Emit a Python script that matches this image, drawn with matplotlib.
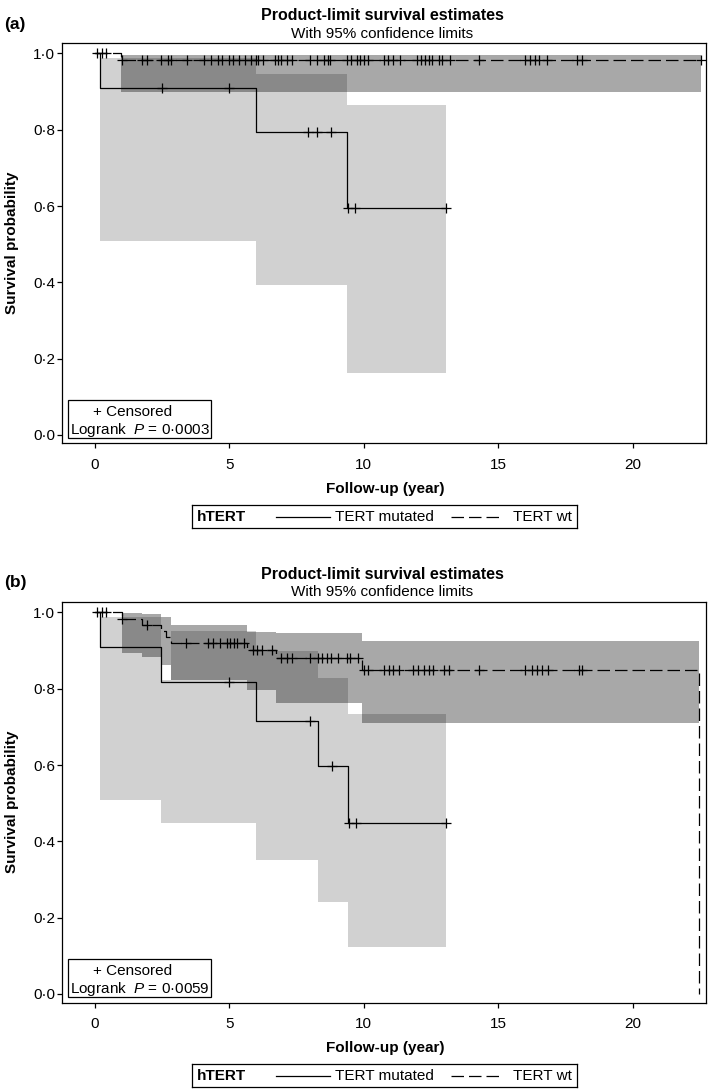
import numpy as np
import matplotlib
matplotlib.use('Agg')
import matplotlib.pyplot as plt
from matplotlib.patches import Rectangle

plt.rcParams['font.family'] = ['Liberation Sans', 'DejaVu Sans']
plt.rcParams['mathtext.fontset'] = 'custom'
plt.rcParams['mathtext.it'] = 'Liberation Sans:italic'
plt.rcParams['mathtext.rm'] = 'Liberation Sans'

W, H = 709, 1090

# ---------------- panel (a) ----------------
mut_a_t = [0.0, 0.2, 6.0, 9.37, 13.05]
mut_a_s = [1.0, 0.909, 0.795, 0.596, 0.596]
mut_a_cens = [2.48, 5.0, 7.93, 8.27, 8.79, 9.42, 9.68, 13.05]
wt_a_t = [0.0, 0.96, 22.55]
wt_a_s = [1.0, 0.983, 0.983]
wt_a_cens = [0.09, 0.25, 0.41, 1.02, 1.74, 1.92, 2.46, 2.73, 2.82, 3.41, 4.04,
             4.31, 4.56, 4.72, 5.0, 5.15, 5.34, 5.59, 5.8, 5.98, 6.08, 6.24,
             6.7, 6.79, 6.91, 7.14, 7.33, 7.98, 8.26, 8.5, 8.65, 8.75, 9.37,
             9.53, 9.75, 9.87, 9.99, 10.14, 10.74, 10.9, 11.09, 11.36, 11.98,
             12.13, 12.29, 12.41, 12.54, 12.79, 12.91, 13.22, 14.28, 16.01,
             16.2, 16.38, 16.51, 16.82, 17.94, 18.12, 22.55]
mut_a_band_t = [0.2, 6.0, 9.37, 13.05]
mut_a_lo = [0.508, 0.393, 0.162]
mut_a_hi = [0.988, 0.945, 0.864]
wt_a_band_t = [0.96, 22.55]
wt_a_lo = [0.898]
wt_a_hi = [0.995]
p_a = '0·0003'

# ---------------- panel (b) ----------------
mut_b_t = [0.0, 0.2, 2.46, 6.0, 8.3, 9.4, 13.05]
mut_b_s = [1.0, 0.909, 0.818, 0.716, 0.597, 0.447, 0.447]
mut_b_cens = [5.0, 8.0, 8.82, 9.45, 9.72, 13.05]
wt_b_t = [0.0, 0.99, 1.74, 2.46, 2.65, 2.82, 5.67, 6.74, 9.93, 22.48]
wt_b_s = [1.0, 0.984, 0.968, 0.952, 0.936, 0.920, 0.902, 0.880, 0.848, 0.0]
wt_b_cens = [0.09, 0.25, 0.41, 1.02, 1.95, 3.39, 4.22, 4.38, 4.65, 4.9, 5.02,
             5.17, 5.27, 5.54, 5.89, 6.01, 6.2, 6.57, 6.93, 7.14, 7.33, 7.98,
             8.28, 8.46, 8.64, 8.77, 9.05, 9.38, 9.5, 9.8, 10.01, 10.17, 10.75,
             10.95, 11.1, 11.29, 11.82, 12.03, 12.22, 12.44, 12.59, 12.98,
             13.18, 14.27, 16.0, 16.25, 16.43, 16.62, 16.87, 17.99, 18.11]
mut_b_band_t = [0.2, 2.46, 2.82, 6.0, 8.3, 9.4, 13.05]
mut_b_lo = [0.508, 0.447, 0.447, 0.350, 0.241, 0.123]
mut_b_hi = [0.987, 0.823, 0.951, 0.899, 0.829, 0.734]
wt_b_band_t = [0.99, 1.74, 2.46, 2.82, 5.67, 6.74, 9.93, 22.48]
wt_b_lo = [0.895, 0.884, 0.862, 0.823, 0.797, 0.762, 0.710]
wt_b_hi = [0.998, 0.995, 0.989, 0.967, 0.950, 0.945, 0.926]
p_b = '0·0059'

x_ticks = [0, 5, 10, 15, 20]
y_ticks = [0.0, 0.2, 0.4, 0.6, 0.8, 1.0]
y_tick_labels = ['0·0', '0·2', '0·4', '0·6', '0·8', '1·0']

LW = 0.9
DASH = (10, 4)


def fx(px):
    return px / W


def fy(px):
    return 1 - px / H


def band(ax, t, lo, hi, alpha):
    ax.fill_between(t, lo + [lo[-1]], hi + [hi[-1]], step='post',
                    color='black', alpha=alpha, lw=0)


def censor_marks(ax, t, s, cens):
    idx = np.searchsorted(t, cens, side='right') - 1
    ax.plot(cens, np.array(s)[idx], ls='none', marker='+', ms=6.5,
            mew=0.9, color='black')


def draw_panel(dy, tag, mut, wt, mut_band, wt_band, pval):
    ax = fig.add_axes([fx(62), fy(443.5 + dy), 644 / W, 400.5 / H])
    band(ax, *mut_band, alpha=0.18)
    band(ax, *wt_band, alpha=0.34)
    mt, ms, mc = mut
    wtt, ws, wc = wt
    ax.plot(mt, ms, drawstyle='steps-post', color='black', lw=LW)
    ax.plot(wtt, ws, drawstyle='steps-post', color='black', lw=LW,
            dashes=DASH)
    censor_marks(ax, mt, ms, mc)
    censor_marks(ax, wtt, ws, wc)

    ax.set_xlim(-1.23, 22.73)
    ax.set_ylim(-0.0223, 1.0275)
    ax.set_xticks(x_ticks)
    ax.set_yticks(y_ticks)
    ax.set_yticklabels(y_tick_labels)
    ax.tick_params(direction='out', length=3.6, width=LW, labelsize=11,
                   color='black')
    ax.tick_params(axis='x', pad=6.5)
    ax.tick_params(axis='y', pad=1.5)
    for sp in ax.spines.values():
        sp.set_linewidth(LW)

    # censored / logrank inset
    ax.add_patch(Rectangle((0.0093, 0.0137), 0.2221, 0.0949,
                           transform=ax.transAxes, fill=False, lw=LW,
                           edgecolor='black'))
    ax.text(0.110, 0.0794, '+ Censored', transform=ax.transAxes,
            ha='center', va='center', fontsize=11)
    ax.text(0.1203, 0.0337, 'Logrank  $P$ = ' + pval, transform=ax.transAxes,
            ha='center', va='center', fontsize=11)

    fig.text(fx(4), fy(24 + dy), tag, fontsize=12.5, fontweight='bold',
             ha='left', va='center')
    fig.text(fx(382), fy(16 + dy), 'Product-limit survival estimates',
             fontsize=11.5, fontweight='bold', ha='center', va='center')
    fig.text(fx(382), fy(33.5 + dy), 'With 95% confidence limits',
             fontsize=11, ha='center', va='center')
    fig.text(fx(385), fy(489 + dy), 'Follow-up (year)', fontsize=11,
             fontweight='bold', ha='center', va='center')
    fig.text(fx(12), fy(243 + dy), 'Survival probability', fontsize=11,
             fontweight='bold', ha='center', va='center', rotation=90)

    # group legend
    lax = fig.add_axes([fx(192), fy(528 + dy), 385 / W, 23 / H])
    lax.set_xlim(192, 577)
    lax.set_ylim(0, 1)
    lax.set_xticks([])
    lax.set_yticks([])
    for sp in lax.spines.values():
        sp.set_linewidth(LW)
    lax.text(197, 0.48, 'hTERT', fontsize=11, fontweight='bold',
             ha='left', va='center')
    lax.plot([276, 330], [0.5, 0.5], color='black', lw=LW)
    lax.text(335, 0.48, 'TERT mutated', fontsize=11, ha='left', va='center')
    lax.plot([451, 503], [0.5, 0.5], color='black', lw=LW, dashes=DASH)
    lax.text(513, 0.48, 'TERT wt', fontsize=11, ha='left', va='center')


fig = plt.figure(figsize=(W / 100, H / 100), dpi=100)

draw_panel(0, '(a)',
           (mut_a_t, mut_a_s, mut_a_cens), (wt_a_t, wt_a_s, wt_a_cens),
           (mut_a_band_t, mut_a_lo, mut_a_hi), (wt_a_band_t, wt_a_lo, wt_a_hi),
           p_a)
draw_panel(559, '(b)',
           (mut_b_t, mut_b_s, mut_b_cens), (wt_b_t, wt_b_s, wt_b_cens),
           (mut_b_band_t, mut_b_lo, mut_b_hi), (wt_b_band_t, wt_b_lo, wt_b_hi),
           p_b)

fig.savefig('out.png', dpi=100, facecolor='white')
